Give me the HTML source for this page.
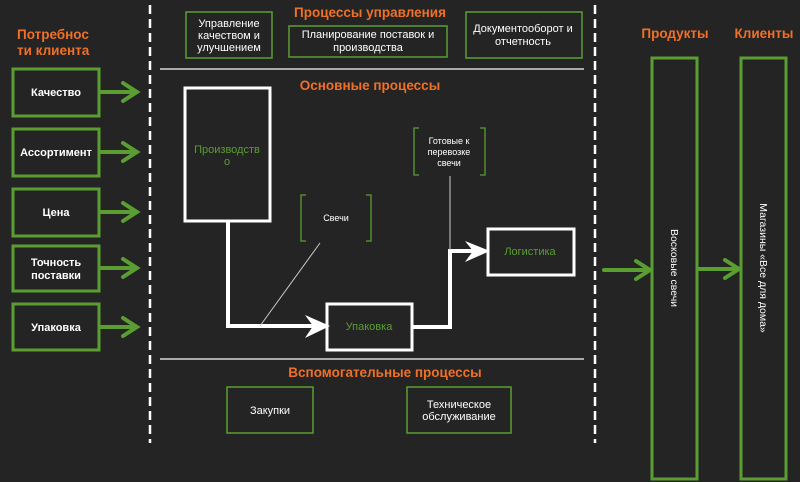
<!DOCTYPE html>
<html><head><meta charset="utf-8"><style>
html,body{margin:0;padding:0;background:#242424;}
svg{display:block;font-family:"Liberation Sans",Arial,sans-serif;}
</style></head><body>
<svg width="800" height="482" viewBox="0 0 800 482" xmlns="http://www.w3.org/2000/svg">
<rect width="800" height="482" fill="#242424"/>
<g font-weight="bold" fill="#f07026" font-size="13.5">
<text x="17" y="39">Потребнос</text><text x="17" y="55">ти клиента</text>
<text x="370" y="17" text-anchor="middle">Процессы управления</text>
<text x="370" y="90" text-anchor="middle">Основные процессы</text>
<text x="385" y="377" text-anchor="middle">Вспомогательные процессы</text>
<text x="675" y="38" text-anchor="middle">Продукты</text>
<text x="764" y="38" text-anchor="middle">Клиенты</text>
</g>
<line x1="150" y1="5" x2="150" y2="443" stroke="#fff" stroke-width="2.5" stroke-dasharray="9,5"/>
<line x1="595" y1="5" x2="595" y2="443" stroke="#fff" stroke-width="2.5" stroke-dasharray="9,5"/>
<line x1="160" y1="69" x2="584" y2="69" stroke="#aaa" stroke-width="2"/>
<line x1="160" y1="359" x2="584" y2="359" stroke="#aaa" stroke-width="2"/>
<g fill="none" stroke="#5a9e32" stroke-width="3">
<rect x="13" y="69" width="86" height="47"/>
<rect x="13" y="129" width="86" height="47"/>
<rect x="13" y="189" width="86" height="47"/>
<rect x="13" y="246" width="86" height="45"/>
<rect x="13" y="304" width="86" height="46"/>
<rect x="652" y="58" width="45" height="421"/>
<rect x="741" y="58" width="45" height="421"/>
</g>
<g stroke="#5a9e32" stroke-width="4" fill="none" stroke-linecap="round">
<path d="M100,92 H136 M123,83 L137,92 L123,101"/>
<path d="M100,152 H136 M123,143 L137,152 L123,161"/>
<path d="M100,212 H136 M123,203 L137,212 L123,221"/>
<path d="M100,268 H136 M123,259 L137,268 L123,277"/>
<path d="M100,327 H136 M123,318 L137,327 L123,336"/>
<path d="M604,270 H648 M636,261 L650,270 L636,279"/>
<path d="M698,269 H737 M725,260 L739,269 L725,278"/>
</g>
<g fill="#fff" font-weight="bold" font-size="11" text-anchor="middle">
<text x="56" y="96">Качество</text>
<text x="56" y="156">Ассортимент</text>
<text x="56" y="216">Цена</text>
<text x="56" y="266">Точность</text><text x="56" y="279">поставки</text>
<text x="56" y="331">Упаковка</text>
</g>
<g fill="none" stroke="#5a9e32" stroke-width="1.5">
<rect x="186" y="12" width="86" height="46"/>
<rect x="289" y="26" width="158" height="31"/>
<rect x="466" y="12" width="116" height="46"/>
<rect x="227" y="387" width="86" height="46"/>
<rect x="407" y="387" width="104" height="46"/>
</g>
<g fill="#fff" font-size="11" text-anchor="middle">
<text x="229" y="27">Управление</text><text x="229" y="39">качеством и</text><text x="229" y="51">улучшением</text>
<text x="368" y="38">Планирование поставок и</text><text x="368" y="51">производства</text>
<text x="523" y="32">Документооборот и</text><text x="523" y="45">отчетность</text>
<text x="270" y="414">Закупки</text>
<text x="459" y="408">Техническое</text><text x="459" y="420">обслуживание</text>
</g>
<g fill="none" stroke="#fff" stroke-width="3">
<rect x="185" y="88" width="85" height="133"/>
<rect x="327" y="304" width="85" height="46"/>
<rect x="488" y="229" width="86" height="46"/>
</g>
<path d="M228,222 V326 H318" fill="none" stroke="#fff" stroke-width="4"/>
<path d="M413,327 H450 V251 H478" fill="none" stroke="#fff" stroke-width="4"/>
<polygon points="305,315 330,326 305,338 313,326" fill="#fff"/>
<polygon points="465,241 490,251 465,262 473,251" fill="#fff"/>
<line x1="450" y1="176" x2="450" y2="250" stroke="#ccc" stroke-width="1"/>
<line x1="320" y1="243" x2="260" y2="326" stroke="#ccc" stroke-width="1"/>
<g fill="none" stroke="#5a9e32" stroke-width="1.3">
<path d="M306,195 H301 V241 H306"/><path d="M366,195 H371 V241 H366"/>
<path d="M419,128 H414 V175 H419"/><path d="M480,128 H485 V175 H480"/>
</g>
<g fill="#fff" font-size="9" text-anchor="middle">
<text x="336" y="221">Свечи</text>
<text x="449" y="144">Готовые к</text><text x="449" y="155">перевозке</text><text x="449" y="166">свечи</text>
</g>
<g fill="#5a9e32" font-size="11" text-anchor="middle">
<text x="227" y="153">Производств</text><text x="227" y="165">о</text>
<text x="369" y="330">Упаковка</text>
<text x="530" y="255">Логистика</text>
</g>
<g fill="#fff" font-size="10.5" text-anchor="middle">
<text transform="translate(671,268) rotate(90)" x="0" y="0">Восковые свечи</text>
<text transform="translate(760,268) rotate(90)" x="0" y="0">Магазины «Все для дома»</text>
</g>
</svg>
</body></html>
